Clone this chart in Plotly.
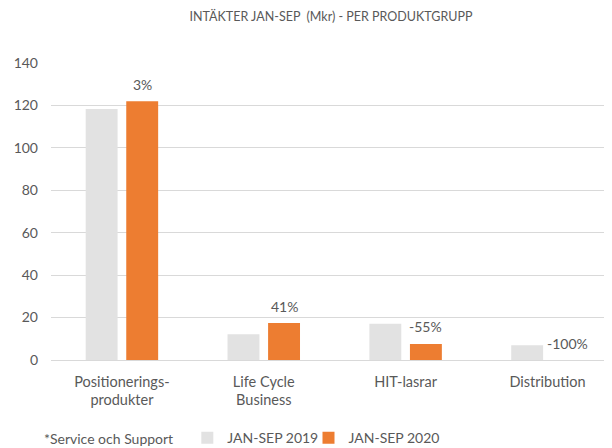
import plotly.graph_objects as go

categories = ["Positionerings-<br>produkter", "Life Cycle<br>Business", "HIT-lasrar", "Distribution"]
values_2019 = [118.3, 12.1, 17.1, 7.0]
values_2020 = [122.0, 17.4, 7.6, 0.0]
change_labels = ["3%", "41%", "-55%", "-100%"]
series_names = ["JAN-SEP 2019", "JAN-SEP 2020"]

pos = list(range(len(categories)))
off = 0.143
bw = 0.225
gray = "#e2e2e2"
orange = "#ed7d31"
txt = "#595959"
font = "Lato, Noto Sans, sans-serif"

# page body has an 8px margin, so the figure is 8px smaller and offset
W, H = 604, 440

fig = go.Figure()
fig.add_trace(go.Bar(x=[p - off for p in pos], y=values_2019, width=bw,
                     marker=dict(color=gray, line=dict(width=0)), name=series_names[0],
                     legend="legend"))
fig.add_trace(go.Bar(x=[p + off for p in pos], y=values_2020, width=bw,
                     marker=dict(color=orange, line=dict(width=0)), name=series_names[1],
                     legend="legend2"))

for p, v, t in zip(pos, values_2020, change_labels):
    fig.add_annotation(x=p + off, y=v, text=t, showarrow=False, yshift=17,
                       font=dict(size=14, color=txt, family=font), xref="x", yref="y")

fig.add_annotation(x=-0.016, y=-0.263, xref="paper", yref="paper", text="*Service och Support",
                   showarrow=False, xanchor="left", yanchor="middle",
                   font=dict(size=14, color=txt, family=font))

leg_common = dict(orientation="h", y=-0.263, xanchor="left", yanchor="middle",
                  font=dict(size=14, color=txt, family=font), bgcolor="rgba(0,0,0,0)",
                  itemwidth=30)

fig.update_layout(
    width=W, height=H,
    margin=dict(l=43, r=0, t=55, b=88, autoexpand=False),
    paper_bgcolor="white", plot_bgcolor="white",
    barmode="overlay",
    title=dict(text="INTÄKTER JAN-SEP  (Mkr) - PER PRODUKTGRUPP", x=323 / W, xanchor="center",
               y=1 - 9 / H, yanchor="middle", font=dict(size=12.5, color=txt, family=font)),
    font=dict(family=font, color=txt),
    showlegend=True,
    legend=dict(x=0.243, **leg_common),
    legend2=dict(x=0.459, **leg_common),
)
fig.update_xaxes(range=[-0.5, 3.455], tickvals=pos, ticktext=categories, showgrid=False,
                 zeroline=False, showline=False, ticks="", tickfont=dict(size=14.5, color=txt, family=font),
                 fixedrange=True, automargin=False, ticklabelstandoff=11)
fig.update_yaxes(range=[0, 140], dtick=20, showgrid=True, gridcolor="#d9d9d9", gridwidth=1,
                 zeroline=True, zerolinecolor="#d9d9d9", zerolinewidth=1, showline=False, ticks="",
                 tickfont=dict(size=14, color=txt, family=font), ticklabelstandoff=12, automargin=False)

fig.write_html("out.html")
